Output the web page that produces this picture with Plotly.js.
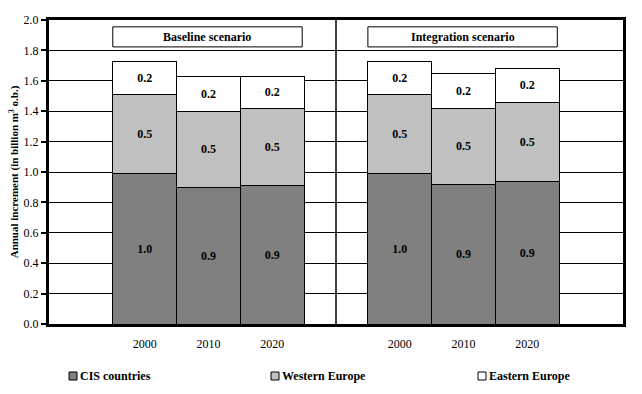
<!DOCTYPE html>
<html>
<head>
<meta charset="utf-8">
<script src="https://cdn.plot.ly/plotly-3.0.1.min.js"></script>
<style>
  html, body { margin: 0; padding: 0; background: #fff; }
  #chart { width: 642px; height: 394px; }
</style>
</head>
<body>
<div id="chart"></div>
<script>
// ---- data ----
const years = ["2000", "2010", "2020"];
const scenarios = ["Baseline scenario", "Integration scenario"];
const seriesNames = ["CIS countries", "Western Europe", "Eastern Europe"];
const seriesColors = ["#808080", "#C0C0C0", "#FFFFFF"];

const cisBaseline = [0.99, 0.90, 0.91];
const weBaseline = [0.52, 0.50, 0.51];
const eeBaseline = [0.22, 0.23, 0.21];

const cisIntegration = [0.99, 0.92, 0.94];
const weIntegration = [0.52, 0.50, 0.52];
const eeIntegration = [0.22, 0.23, 0.22];

const yTicks = [0.0, 0.2, 0.4, 0.6, 0.8, 1.0, 1.2, 1.4, 1.6, 1.8, 2.0];

// ---- layout helpers ----
const FONT = '"Liberation Serif", "Times New Roman", serif';
const W = 642, H = 394;
const M = { l: 49, r: 19, t: 20, b: 70 };
const PW = W - M.l - M.r, PH = H - M.t - M.b;
const px2x = px => (px - M.l) / PW;
const py2y = py => (H - M.b - py) / PH;

// slot positions: each scenario group occupies consecutive slots
const groupStart = [1, 5];
const xPos = [];
groupStart.forEach(g => years.forEach((_, i) => xPos.push(g + i + 0.5)));
const xText = [].concat(...groupStart.map(() => years));

const seriesValues = [
  cisBaseline.concat(cisIntegration),
  weBaseline.concat(weIntegration),
  eeBaseline.concat(eeIntegration)
];

const traces = seriesNames.map((name, k) => ({
  type: 'bar',
  name: name,
  x: xPos,
  y: seriesValues[k],
  marker: { color: seriesColors[k], line: { color: '#000', width: 1 } },
  texttemplate: '%{y:.1f}',
  textposition: 'inside',
  insidetextanchor: 'middle',
  textangle: 0,
  textfont: { family: FONT, size: 12, color: '#000', weight: 'bold' },
  hoverinfo: 'skip',
  showlegend: false
}));

const shapes = [];
const annotations = [];

// divider between the two scenario panels
shapes.push({
  type: 'line', xref: 'x', yref: 'paper',
  x0: 4.5, x1: 4.5, y0: 0, y1: 1,
  line: { color: '#000', width: 1.5 }, layer: 'above'
});

// scenario title boxes
scenarios.forEach((s, j) => {
  const x0 = groupStart[j], x1 = groupStart[j] + years.length - 0.03;
  shapes.push({
    type: 'rect', xref: 'x', yref: 'y',
    x0: x0, x1: x1, y0: 1.823, y1: 1.955,
    fillcolor: '#fff', line: { color: '#000', width: 1 }, layer: 'above'
  });
  annotations.push({
    xref: 'x', yref: 'y', x: (x0 + x1) / 2, y: 1.889,
    text: s, showarrow: false,
    font: { family: FONT, size: 12, color: '#000', weight: 'bold' },
    xanchor: 'center', yanchor: 'middle'
  });
});

// custom legend
const legendX = [69, 271, 478];
const legendY = 376;
seriesNames.forEach((name, k) => {
  shapes.push({
    type: 'rect', xref: 'paper', yref: 'paper',
    x0: px2x(legendX[k]), x1: px2x(legendX[k] + 8),
    y0: py2y(legendY + 4), y1: py2y(legendY - 4),
    fillcolor: seriesColors[k], line: { color: '#000', width: 1 }
  });
  annotations.push({
    xref: 'paper', yref: 'paper',
    x: px2x(legendX[k] + 9), y: py2y(legendY),
    text: name, showarrow: false,
    xanchor: 'left', yanchor: 'middle',
    font: { family: FONT, size: 12, color: '#000', weight: 'bold' }
  });
});

const layout = {
  width: W, height: H,
  margin: M,
  paper_bgcolor: '#fff', plot_bgcolor: '#fff',
  barmode: 'stack', bargap: 0,
  showlegend: false,
  font: { family: FONT, size: 12, color: '#000' },
  xaxis: {
    range: [0, 9],
    tickmode: 'array', tickvals: xPos, ticktext: xText,
    ticks: '', showgrid: false, zeroline: false,
    showline: true, linecolor: '#000', linewidth: 3, mirror: true,
    ticklabelstandoff: 7,
    tickfont: { family: FONT, size: 12, color: '#000' },
    fixedrange: true
  },
  yaxis: {
    range: [0, 2],
    tickmode: 'array', tickvals: yTicks,
    tickformat: '.1f',
    ticks: 'outside', ticklen: 5, tickwidth: 2, tickcolor: '#000',
    showgrid: true, gridcolor: '#000', gridwidth: 1,
    zeroline: false,
    showline: true, linecolor: '#000', linewidth: 3, mirror: true,
    tickfont: { family: FONT, size: 12, color: '#000' },
    title: {
      text: 'Annual increment (in billion m<sup>3</sup> o.b.)',
      font: { family: FONT, size: 11, color: '#000', weight: 'bold' },
      standoff: 3
    },
    fixedrange: true
  },
  shapes: shapes,
  annotations: annotations
};

Plotly.newPlot('chart', traces, layout, { staticPlot: true, displayModeBar: false });
</script>
</body>
</html>
